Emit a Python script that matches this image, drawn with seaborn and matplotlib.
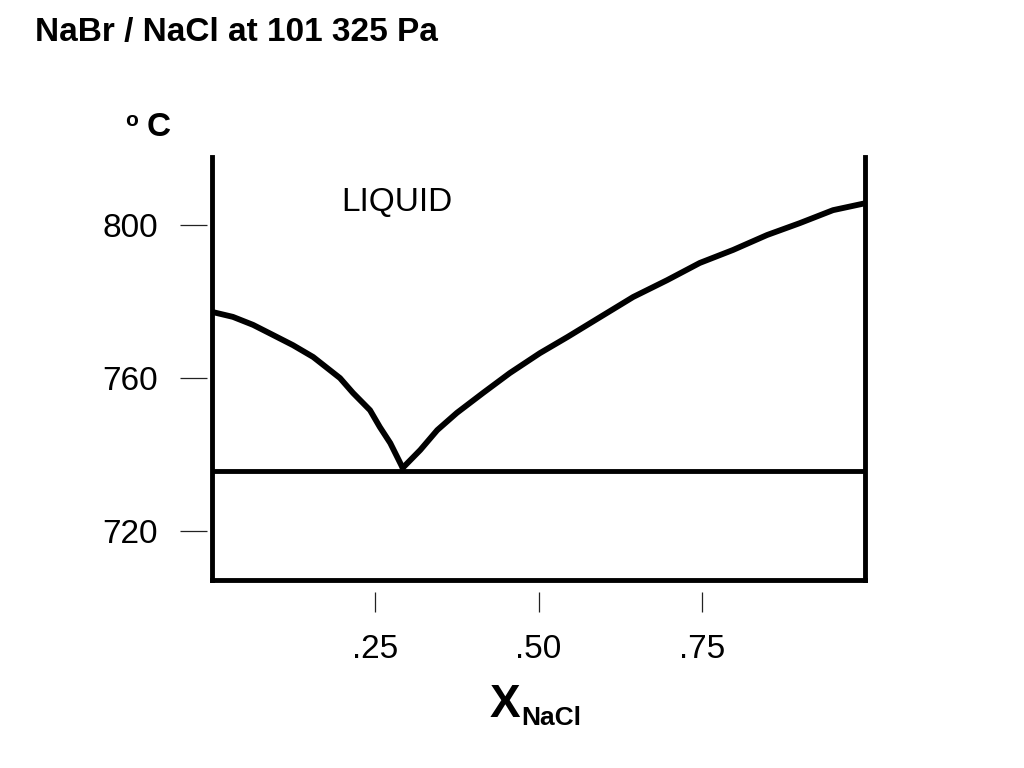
import numpy as np
import pandas as pd
import seaborn as sns
import matplotlib
matplotlib.use('Agg')
import matplotlib.pyplot as plt

# liquidus data (mole fraction NaCl, temperature in C)
left_x = [0.0, 0.032, 0.063, 0.093, 0.124, 0.155, 0.196, 0.216, 0.242, 0.257, 0.273, 0.292]
left_T = [777.2, 775.9, 773.8, 771.2, 768.5, 765.4, 759.9, 756.0, 751.5, 747.1, 742.9, 736.4]
right_x = [0.292, 0.319, 0.345, 0.375, 0.415, 0.456, 0.502, 0.544, 0.594, 0.645,
           0.697, 0.747, 0.798, 0.850, 0.900, 0.951, 1.0]
right_T = [736.4, 741.1, 746.3, 750.8, 756.0, 761.2, 766.4, 770.6, 775.8, 781.1,
           785.5, 790.0, 793.4, 797.3, 800.4, 803.8, 805.6]
eutectic_T = 735.6

x_ticks = [0.25, 0.50, 0.75]
x_labels = ['.25', '.50', '.75']
y_ticks = [720, 760, 800]
y_labels = ['720', '760', '800']

sns.set_theme(style='white')
plt.rcParams['font.family'] = ['Liberation Sans', 'DejaVu Sans']
plt.rcParams['text.color'] = 'black'
plt.rcParams['xtick.labelcolor'] = 'black'
plt.rcParams['ytick.labelcolor'] = 'black'

fig = plt.figure(figsize=(10.24, 7.68), dpi=100)
ax = fig.add_axes([212/1024, 1-580/768, 653/1024, 423/768])

left = pd.DataFrame({'x': left_x, 'T': left_T})
right = pd.DataFrame({'x': right_x, 'T': right_T})
sns.lineplot(data=left, x='x', y='T', ax=ax, color='black', linewidth=4.2, sort=False)
sns.lineplot(data=right, x='x', y='T', ax=ax, color='black', linewidth=4.2, sort=False)
ax.axhline(eutectic_T, color='black', linewidth=3.5)

ax.set_xlim(0, 1)
ax.set_ylim(707.1, 817.7)
ax.set_xticks([])
ax.set_yticks([])
ax.set_xlabel('')
ax.set_ylabel('')
ax.spines['top'].set_visible(False)
for s in ['left', 'right', 'bottom']:
    ax.spines[s].set_color('black')
    ax.spines[s].set_linewidth(3.5)

ax.text(0.283, 805.7, 'LIQUID', fontsize=24, ha='center', va='center', color='black')

# detached tick marks
sy = ax.secondary_yaxis(-0.0077)
sy.spines['left'].set_visible(False)
sy.set_yticks(y_ticks, y_labels)
sy.tick_params(axis='y', length=19.5, width=0.9, color='#222222', pad=16,
               labelsize=24, labelcolor='black', direction='out', left=True)

sx = ax.secondary_xaxis(-0.028)
sx.spines['bottom'].set_visible(False)
sx.set_xticks(x_ticks, x_labels)
sx.tick_params(axis='x', length=14.4, width=0.9, color='#222222', pad=16,
               labelsize=24, labelcolor='black', direction='out', bottom=True)

fig.text(35/1024, 1-32/768, 'NaBr / NaCl at 101 325 Pa', fontsize=24,
         fontweight='bold', ha='left', va='center', color='black')
fig.text(132/1024, 1-121/768, 'o', fontsize=15, fontweight='bold',
         ha='center', va='center', color='black')
fig.text(159/1024, 1-127/768, 'C', fontsize=24, fontweight='bold',
         ha='center', va='center', color='black')
fig.text(520/1024, 1-705/768, 'X', fontsize=33, fontweight='bold',
         ha='right', va='center', color='black')
fig.text(521/1024, 1-718/768, 'NaCl', fontsize=19, fontweight='bold',
         ha='left', va='center', color='black')

fig.savefig('out.png', dpi=100, facecolor='white')
